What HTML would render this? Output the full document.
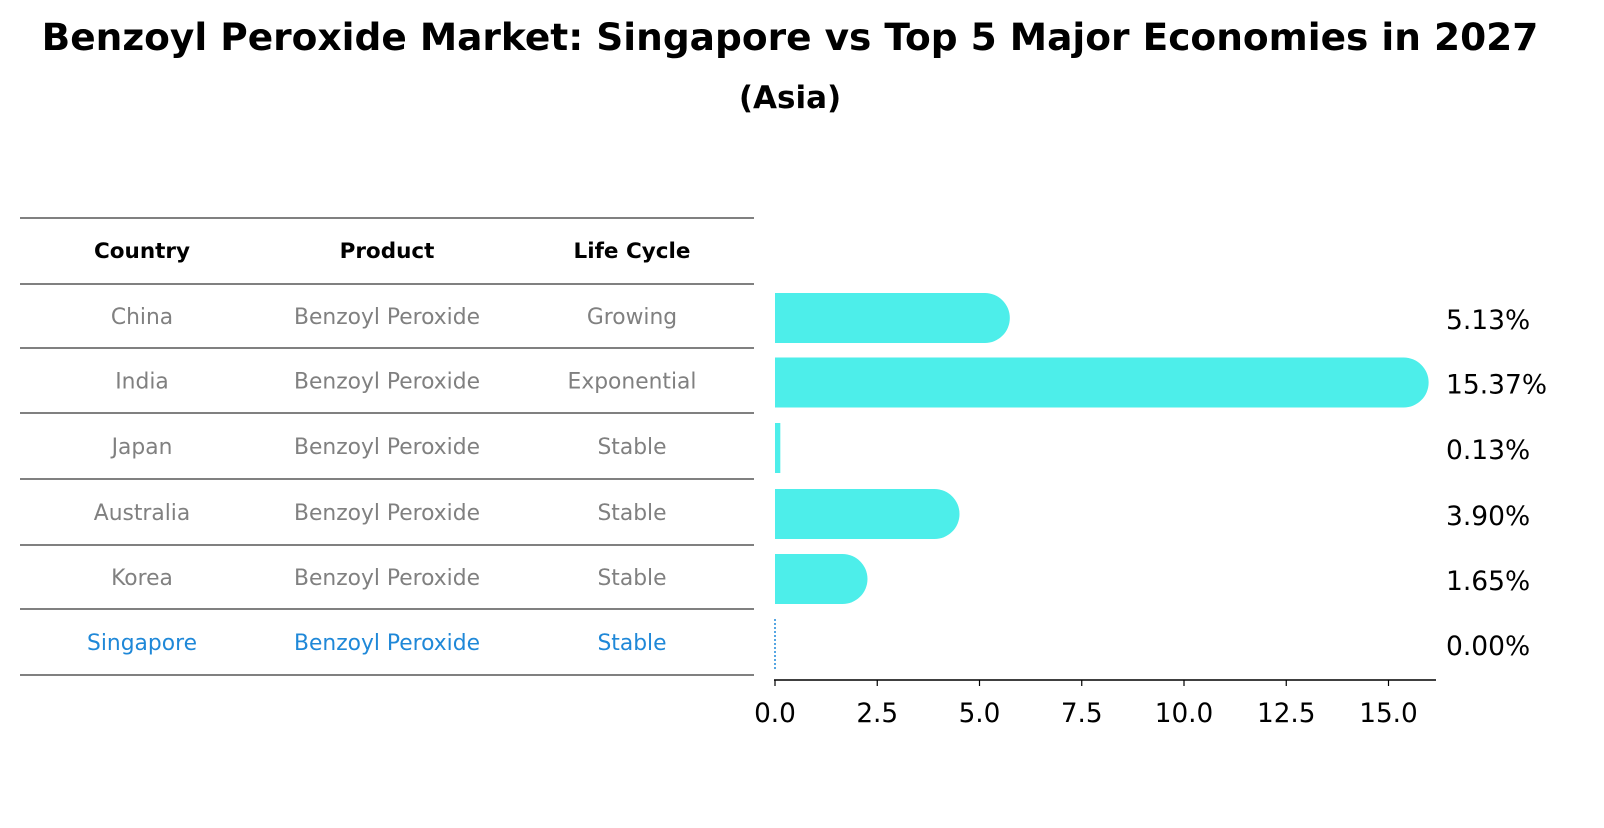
<!DOCTYPE html>
<html><head><meta charset="utf-8"><style>
body{margin:0;background:#fff;font-family:"Liberation Sans","DejaVu Sans",sans-serif}
</style></head><body>
<svg width="1604" height="823" xmlns="http://www.w3.org/2000/svg" font-family="DejaVu Sans, Liberation Sans, sans-serif">
<text x="790" y="50" text-anchor="middle" font-size="37.5" font-weight="bold">Benzoyl Peroxide Market: Singapore vs Top 5 Major Economies in 2027</text>
<text x="790" y="108" text-anchor="middle" font-size="31" font-weight="bold">(Asia)</text>
<g id="table"></g>
<g id="bars"></g>
</svg>
<script>
const countries=["China","India","Japan","Australia","Korea","Singapore"];
const products=["Benzoyl Peroxide","Benzoyl Peroxide","Benzoyl Peroxide","Benzoyl Peroxide","Benzoyl Peroxide","Benzoyl Peroxide"];
const lifeCycles=["Growing","Exponential","Stable","Stable","Stable","Stable"];
const values=[5.13,15.37,0.13,3.90,1.65,0.00];
const ticks=[0,2.5,5,7.5,10,12.5,15];
const NS="http://www.w3.org/2000/svg";
function mk(t,a,p){const e=document.createElementNS(NS,t);for(const k in a)e.setAttribute(k,a[k]);p.appendChild(e);return e;}
const tbl=document.getElementById('table');
const lineYs=[218,284,348,413,479,545,609,675];
lineYs.forEach(y=>{const l=mk('line',{x1:20,x2:754,y1:y,y2:y,stroke:'#000','stroke-width':1},tbl);

});
const colX=[142,387,632];
["Country","Product","Life Cycle"].forEach((h,i)=>{const t=mk('text',{x:colX[i],y:258,'text-anchor':'middle','font-size':21.5,'font-weight':'bold'},tbl);t.textContent=h;

});
const rowY=i=>(lineYs[i+1]+lineYs[i+2])/2;
countries.forEach((c,i)=>{const col=c==="Singapore"?"#1f88d8":"#808080";
[c,products[i],lifeCycles[i]].forEach((v,j)=>{const t=mk('text',{x:colX[j],y:rowY(i)+8,'text-anchor':'middle','font-size':21.8,fill:col},tbl);t.textContent=v;

});});
const g=document.getElementById('bars');
const x0=775,scale=40.9;const xs=v=>x0+v*scale;
const bh=50;
values.forEach((v,i)=>{const cy=rowY(i)+2;
if(v<=0){const l=mk('line',{x1:x0,x2:x0,y1:cy-25,y2:cy+25,stroke:'#1f88d8','stroke-width':1.5,'stroke-dasharray':'2,2'},g);

}
else{const w=xs(v)-x0;let d;
if(v>1){d=`M${x0},${cy-bh/2} H${xs(v)} A${bh/2},${bh/2} 0 0 1 ${xs(v)},${cy+bh/2} H${x0} Z`;}
else{d=`M${x0},${cy-bh/2} h${Math.max(w,2)} v${bh} h${-Math.max(w,2)} Z`;}
const p=mk('path',{d:d,fill:'#4deeea'},g);

}
const t=mk('text',{x:1446,y:cy+11,'font-size':26.5},g);t.textContent=v.toFixed(2)+'%';

});
const ax=mk('line',{x1:x0-1,x2:1436,y1:680,y2:680,stroke:'#000','stroke-width':1.5},g);


ticks.forEach(v=>{const tk=mk('line',{x1:xs(v),x2:xs(v),y1:680,y2:686,stroke:'#000','stroke-width':1.2},g);


const t=mk('text',{x:xs(v),y:722,'text-anchor':'middle','font-size':26.3},g);t.textContent=v.toFixed(1);

});
</script>
</body></html>
